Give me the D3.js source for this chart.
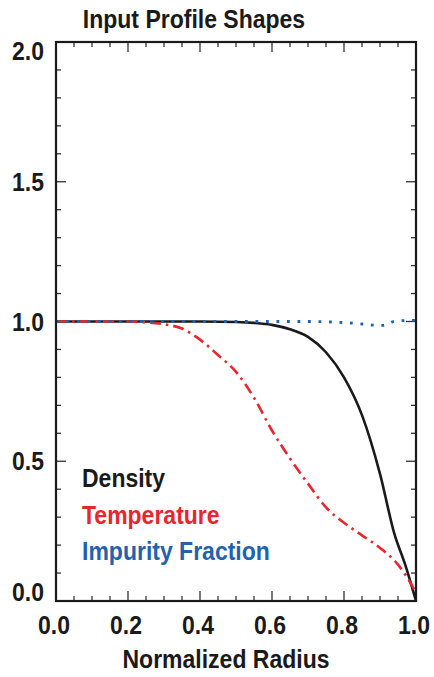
<!DOCTYPE html>
<html><head><meta charset="utf-8">
<script src="https://cdn.jsdelivr.net/npm/d3@7"></script>
<style>
html,body{margin:0;padding:0;background:#fff;}
svg text{font-family:"Liberation Sans",Arial,Helvetica,sans-serif;font-weight:bold;}
</style></head>
<body><svg id="c" width="434" height="677"></svg>
<script>
// Data
const densityX = [0.0,0.1,0.2,0.3,0.4,0.5,0.55,0.6,0.65,0.7,0.75,0.8,0.85,0.9,0.94,0.97,1.0];
const densityY = [1.0,1.0,1.0,1.0,1.0,0.998,0.995,0.988,0.972,0.945,0.89,0.80,0.665,0.455,0.24,0.13,0.0];
const tempX = [0.0,0.1,0.2,0.25,0.3,0.35,0.4,0.45,0.5,0.55,0.6,0.65,0.7,0.75,0.8,0.85,0.9,0.95,0.975,1.0];
const tempY = [1.0,1.0,1.0,0.997,0.99,0.975,0.935,0.88,0.82,0.727,0.61,0.51,0.42,0.335,0.28,0.235,0.19,0.13,0.085,0.03];
const impX = [0.0,0.2,0.4,0.6,0.7,0.75,0.8,0.85,0.88,0.91,0.935,0.96,1.0];
const impY = [1.0,1.0,1.0,1.0,1.0,0.999,0.996,0.991,0.987,0.986,0.999,1.003,1.004];
const xTicks = [0.0,0.2,0.4,0.6,0.8,1.0];
const yTicks = [0.0,0.5,1.0,1.5,2.0];
const legendLabels = ["Density","Temperature","Impurity Fraction"];
const title = "Input Profile Shapes";
const xTitle = "Normalized Radius";

const colors = {density:"#1a1a1a", temp:"#e8262e", imp:"#1f63b0"};
const svg = d3.select("#c");
const L=56,R=416,T=42,B=601;
const x = d3.scaleLinear().domain([0,1]).range([L,R]);
const y = d3.scaleLinear().domain([0,2]).range([B,T]);
const FS = 25, SX = 0.92;

function label(g, px, py, txt, anchor, color){
  return g.append("text").attr("transform",`translate(${px},${py}) scale(${SX},1)`)
    .attr("text-anchor",anchor).attr("font-size",FS).attr("fill",color||"#1a1a1a").text(txt);
}

// Ticks (inward, all four sides)
const tg = svg.append("g").attr("stroke","#333").attr("stroke-width",1.3);
d3.range(0,21).forEach(i=>{
  const v=i*0.05, len=(i%4===0)?10:5;
  tg.append("line").attr("x1",x(v)).attr("x2",x(v)).attr("y1",B).attr("y2",B-len);
  tg.append("line").attr("x1",x(v)).attr("x2",x(v)).attr("y1",T).attr("y2",T+len);
});
d3.range(0,21).forEach(i=>{
  const v=i*0.1, len=(i%5===0)?10:5;
  tg.append("line").attr("y1",y(v)).attr("y2",y(v)).attr("x1",L).attr("x2",L+len);
  tg.append("line").attr("y1",y(v)).attr("y2",y(v)).attr("x1",R).attr("x2",R-len);
});

// Lines
const line = d3.line().x(d=>x(d[0])).y(d=>y(d[1])).curve(d3.curveMonotoneX);
svg.append("path").datum(densityX.map((v,i)=>[v,densityY[i]]))
  .attr("d",line).attr("fill","none").attr("stroke",colors.density).attr("stroke-width",2.6);
svg.append("path").datum(tempX.map((v,i)=>[v,tempY[i]]))
  .attr("d",line).attr("fill","none").attr("stroke",colors.temp).attr("stroke-width",2.6)
  .attr("stroke-dasharray","11,5,2.5,5");
svg.append("path").datum(impX.map((v,i)=>[v,impY[i]]))
  .attr("d",line).attr("fill","none").attr("stroke",colors.imp).attr("stroke-width",2.8)
  .attr("stroke-dasharray","2.8,7.7");

// Frame
svg.append("rect").attr("x",L).attr("y",T).attr("width",R-L).attr("height",B-T)
  .attr("fill","none").attr("stroke","#1a1a1a").attr("stroke-width",2.2);

// Tick labels
const xl = svg.append("g");
xTicks.forEach(d=>label(xl, x(d)-2, 634, d.toFixed(1), "middle"));
const yl = svg.append("g");
yTicks.forEach(d=>label(yl, 44, d===2?y(d)+18 : d===0?y(d): y(d)+9, d.toFixed(1), "end"));

// Titles
label(svg, 194, 28, title, "middle");
label(svg, 226, 668, xTitle, "middle");

// Legend
const lc=[colors.density,colors.temp,colors.imp];
legendLabels.forEach((d,i)=>label(svg, 82, 487+i*36.5, d, "start", lc[i]));
</script></body></html>
